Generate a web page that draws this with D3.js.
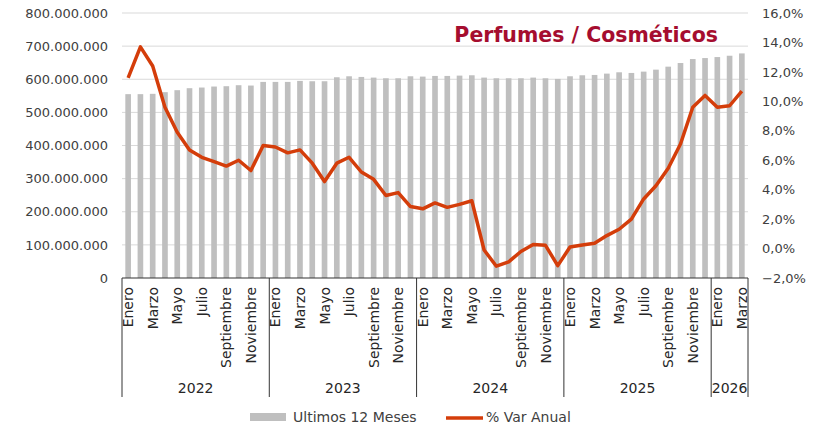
<!DOCTYPE html>
<html>
<head>
<meta charset="utf-8">
<script src="https://cdn.jsdelivr.net/npm/d3@7"></script>
<style>
  body { margin: 0; background: #fff; }
  svg { font-family: "DejaVu Sans", sans-serif; }
</style>
</head>
<body>
<svg id="chart" width="819" height="429"></svg>
<script>
// data
var years = ["2022", "2023", "2024", "2025", "2026"];
var monthNames = ["Enero","Febrero","Marzo","Abril","Mayo","Junio","Julio","Agosto","Septiembre","Octubre","Noviembre","Diciembre"];
var monthsPerYear = [12, 12, 12, 12, 3];

// Ultimos 12 meses (left axis)
var ultimos12 = [
  555e6, 555e6, 556e6, 561e6, 567e6, 573e6, 575e6, 578e6, 579e6, 582e6, 581e6, 592e6,
  592e6, 592e6, 595e6, 594e6, 594e6, 606e6, 609e6, 607e6, 605e6, 603e6, 603e6, 609e6,
  608e6, 610e6, 610e6, 611e6, 612e6, 605e6, 603e6, 603e6, 603e6, 605e6, 603e6, 601e6,
  609e6, 612e6, 613e6, 617e6, 621e6, 619e6, 623e6, 629e6, 638e6, 649e6, 661e6, 664e6,
  667e6, 671e6, 678e6
];
// % Var anual (right axis)
var varAnual = [
  11.6, 13.7, 12.4, 9.6, 7.9, 6.7, 6.2, 5.9, 5.6, 6.0, 5.3, 7.0,
  6.9, 6.5, 6.7, 5.8, 4.55, 5.8, 6.2, 5.2, 4.7, 3.6, 3.8, 2.85,
  2.7, 3.1, 2.8, 3.0, 3.25, -0.1, -1.2, -0.9, -0.2, 0.27, 0.22, -1.16,
  0.1, 0.24, 0.36, 0.88, 1.31, 2.0, 3.37, 4.27, 5.46, 7.1, 9.6, 10.4,
  9.6, 9.7, 10.7
];

var leftTicks = d3.range(0, 800e6 + 1, 100e6);
var rightTicks = d3.range(-2, 16.01, 2);

var svg = d3.select("#chart");

// plot area
var pLeft = 122, pRight = 748, pTop = 13, pBottom = 278;

// category list
var cats = [];
years.forEach(function(y, yi) {
  for (var m = 0; m < monthsPerYear[yi]; m++) cats.push({year: y, month: m});
});

var x = d3.scaleBand().domain(d3.range(cats.length)).range([pLeft, pRight]);
var yL = d3.scaleLinear().domain([0, 800e6]).range([pBottom, pTop]);
var yR = d3.scaleLinear().domain([-2, 16]).range([pBottom, pTop]);

var es = d3.formatLocale({decimal: ",", thousands: ".", grouping: [3], currency: ["$", ""]});
var fmtL = es.format(",.0f");
var fmtR = es.format(".1f");

// gridlines
svg.append("g").selectAll("line")
  .data(leftTicks.slice(1))
  .enter().append("line")
  .attr("x1", pLeft).attr("x2", pRight)
  .attr("y1", function(d){ return yL(d); })
  .attr("y2", function(d){ return yL(d); })
  .attr("stroke", "#d9d9d9").attr("stroke-width", 1);

// bars
var bw = x.bandwidth() * 0.46;
svg.append("g").selectAll("rect")
  .data(ultimos12)
  .enter().append("rect")
  .attr("x", function(d, i){ return x(i) + x.bandwidth()/2 - bw/2; })
  .attr("y", function(d){ return yL(d); })
  .attr("width", bw)
  .attr("height", function(d){ return pBottom - yL(d); })
  .attr("fill", "#bfbfbf");

// line
var line = d3.line()
  .x(function(d, i){ return x(i) + x.bandwidth()/2; })
  .y(function(d){ return yR(d); });

svg.append("path")
  .datum(varAnual)
  .attr("d", line)
  .attr("fill", "none")
  .attr("stroke", "#d43d0a")
  .attr("stroke-width", 3.5)
  .attr("stroke-linejoin", "round");

// left axis labels
svg.append("g").selectAll("text")
  .data(leftTicks)
  .enter().append("text")
  .attr("x", 108)
  .attr("y", function(d){ return yL(d); })
  .attr("dy", "0.36em")
  .attr("text-anchor", "end")
  .attr("font-size", 13)
  .attr("fill", "#404040")
  .text(function(d){ return fmtL(d); });

// right axis labels
svg.append("g").selectAll("text")
  .data(rightTicks)
  .enter().append("text")
  .attr("x", 762)
  .attr("y", function(d){ return yR(d); })
  .attr("dy", "0.36em")
  .attr("font-size", 13)
  .attr("fill", "#404040")
  .text(function(d){ return fmtR(d) + "%"; });

// category axis line
svg.append("line")
  .attr("x1", pLeft).attr("x2", pRight)
  .attr("y1", pBottom).attr("y2", pBottom)
  .attr("stroke", "#333").attr("stroke-width", 1);

// year separators
var bounds = [0];
monthsPerYear.forEach(function(n, i){ bounds.push(bounds[i] + n); });
svg.append("g").selectAll("line")
  .data(bounds)
  .enter().append("line")
  .attr("x1", function(d){ return d < cats.length ? x(d) : pRight; })
  .attr("x2", function(d){ return d < cats.length ? x(d) : pRight; })
  .attr("y1", pBottom).attr("y2", 397)
  .attr("stroke", "#333").attr("stroke-width", 1);

// month labels (every other month)
svg.append("g").selectAll("text")
  .data(cats.map(function(c, i){ return {c: c, i: i}; }).filter(function(d){ return d.c.month % 2 === 0; }))
  .enter().append("text")
  .attr("transform", function(d){
    return "translate(" + (x(d.i) + x.bandwidth()/2) + "," + 287 + ") rotate(-90)";
  })
  .attr("dy", "0.36em")
  .attr("text-anchor", "end")
  .attr("font-size", 14)
  .attr("fill", "#262626")
  .text(function(d){ return monthNames[d.c.month]; });

// year labels
svg.append("g").selectAll("text")
  .data(years)
  .enter().append("text")
  .attr("x", function(d, i){
    var a = x(bounds[i]);
    var b = bounds[i+1] < cats.length ? x(bounds[i+1]) : pRight;
    return (a + b) / 2;
  })
  .attr("y", 393)
  .attr("text-anchor", "middle")
  .attr("font-size", 14)
  .attr("fill", "#262626")
  .text(function(d){ return d; });

// title
svg.append("text")
  .attr("x", 718).attr("y", 42)
  .attr("text-anchor", "end")
  .attr("font-size", 20.5)
  .attr("font-weight", "bold")
  .attr("fill", "#a50d2f")
  .text("Perfumes / Cosméticos");

// legend
var lg = svg.append("g");
lg.append("rect").attr("x", 250).attr("y", 413).attr("width", 36).attr("height", 8).attr("fill", "#bfbfbf");
lg.append("text").attr("x", 293).attr("y", 422).attr("font-size", 14).attr("fill", "#404040").text("Ultimos 12 Meses");
lg.append("line").attr("x1", 446).attr("x2", 483).attr("y1", 418).attr("y2", 418)
  .attr("stroke", "#d43d0a").attr("stroke-width", 3.5);
lg.append("text").attr("x", 486).attr("y", 422).attr("font-size", 14).attr("fill", "#404040").text("% Var Anual");
</script>
</body>
</html>
